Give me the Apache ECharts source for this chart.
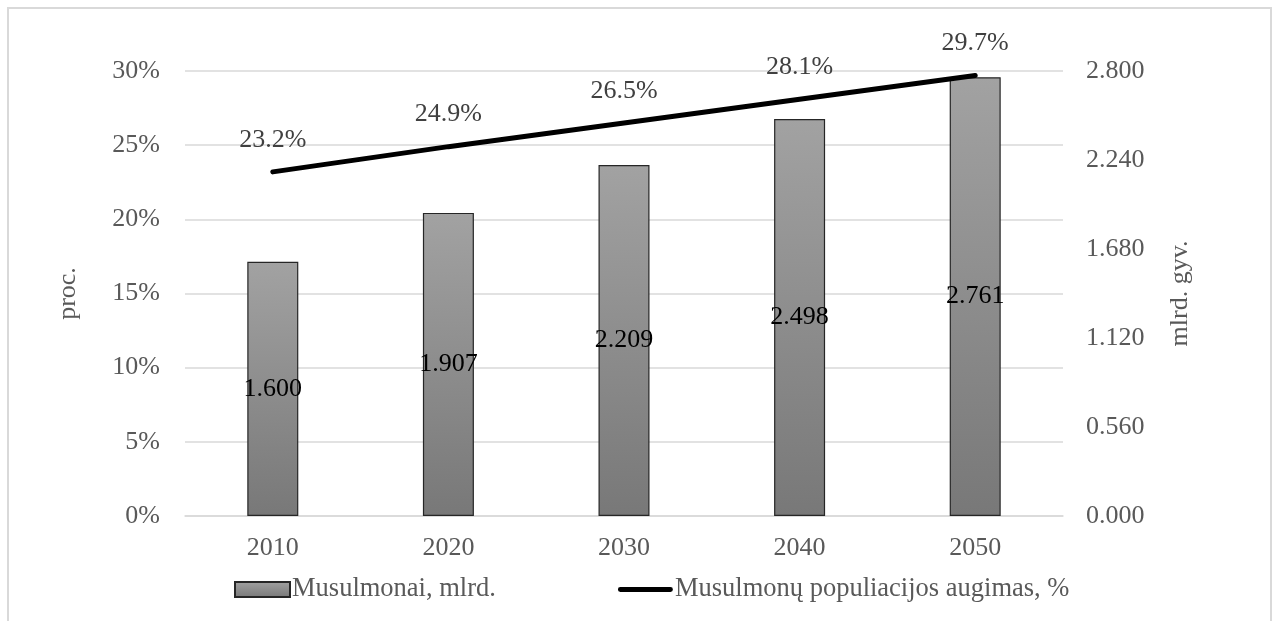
<!DOCTYPE html>
<html>
<head>
<meta charset="utf-8">
<script src="https://cdn.jsdelivr.net/npm/echarts@6/dist/echarts.min.js"></script>
<style>
  html, body { margin: 0; padding: 0; background: #fff; }
  #chart { width: 1276px; height: 621px; }
</style>
</head>
<body>
<div id="chart"></div>
<script>
// Years on the category axis
const years = ['2010', '2020', '2030', '2040', '2050'];
// Muslim population, billions (right axis)
const muslimsBillions = [1.600, 1.907, 2.209, 2.498, 2.761];
// Share of world population, % (left axis)
const sharePercent = [23.2, 24.9, 26.5, 28.1, 29.7];

const barName = 'Musulmonai, mlrd.';
const lineName = 'Musulmonų populiacijos augimas, %';

const font = '"Liberation Serif", "Times New Roman", serif';
const fontSize = 26;
const axisGrey = '#595959';
const gridGrey = '#d9d9d9';

const chart = echarts.init(document.getElementById('chart'), null, { renderer: 'canvas' });

chart.setOption({
  animation: false,
  backgroundColor: '#ffffff',
  textStyle: { fontFamily: font },
  graphic: [{
    type: 'rect',
    silent: true,
    shape: { x: 8, y: 8, width: 1263, height: 700 },
    style: { fill: 'none', stroke: gridGrey, lineWidth: 2 }
  }],
  grid: { left: 185, right: 213, top: 71, bottom: 105 },
  legend: {
    left: 229,
    top: 571,
    itemGap: 122,
    itemWidth: 55,
    itemHeight: 15,
    textStyle: { fontFamily: font, fontSize: 26.5, color: axisGrey, padding: [0, 0, 0, -3] },
    data: [
      { name: barName, icon: 'rect' },
      {
        name: lineName,
        // thick rounded stroke as the line-series key
        icon: 'path://M4.5,0H95.5A4.5,4.5 0 0 1 95.5,9H4.5A4.5,4.5 0 0 1 4.5,0Z',
        itemStyle: { color: '#000', borderWidth: 0 }
      }
    ]
  },
  xAxis: {
    type: 'category',
    data: years,
    axisTick: { show: false },
    axisLine: { lineStyle: { color: gridGrey, width: 1.5 } },
    axisLabel: { fontFamily: font, fontSize: fontSize, color: axisGrey, margin: 19 }
  },
  yAxis: [
    {
      type: 'value',
      min: 0, max: 30, interval: 5,
      name: 'proc.',
      nameLocation: 'middle',
      nameRotate: 90,
      nameGap: 104,
      nameTextStyle: { fontFamily: font, fontSize: fontSize, color: axisGrey },
      axisLine: { show: false },
      axisTick: { show: false },
      splitLine: { lineStyle: { color: gridGrey, width: 1.5 } },
      axisLabel: { fontFamily: font, fontSize: fontSize, color: axisGrey, margin: 25,
        formatter: v => v + '%' }
    },
    {
      type: 'value',
      min: 0, max: 2.8, interval: 0.56,
      name: 'mlrd. gyv.',
      nameLocation: 'middle',
      nameRotate: 90,
      nameGap: 104,
      nameTextStyle: { fontFamily: font, fontSize: fontSize, color: axisGrey },
      axisLine: { show: false },
      axisTick: { show: false },
      splitLine: { show: false },
      axisLabel: { fontFamily: font, fontSize: fontSize, color: axisGrey, margin: 23,
        formatter: v => v.toFixed(3) }
    }
  ],
  series: [
    {
      name: barName,
      type: 'bar',
      yAxisIndex: 1,
      data: muslimsBillions,
      barWidth: 51,
      itemStyle: {
        color: new echarts.graphic.LinearGradient(0, 0, 0, 1, [
          { offset: 0, color: '#a2a2a2' },
          { offset: 1, color: '#787878' }
        ]),
        borderColor: '#262626',
        borderWidth: 1.2
      },
      label: {
        show: true,
        position: 'inside',
        fontFamily: font,
        fontSize: fontSize,
        color: '#000',
        formatter: p => p.value.toFixed(3)
      }
    },
    {
      name: lineName,
      type: 'line',
      yAxisIndex: 0,
      data: sharePercent,
      symbol: 'circle',
      symbolSize: 0.1,
      showSymbol: true,
      lineStyle: { color: '#000', width: 5, cap: 'round' },
      itemStyle: { color: '#000' },
      label: {
        show: true,
        position: 'top',
        distance: 19,
        fontFamily: font,
        fontSize: fontSize,
        color: '#404040',
        formatter: p => p.value.toFixed(1) + '%'
      }
    }
  ]
});
</script>
</body>
</html>
